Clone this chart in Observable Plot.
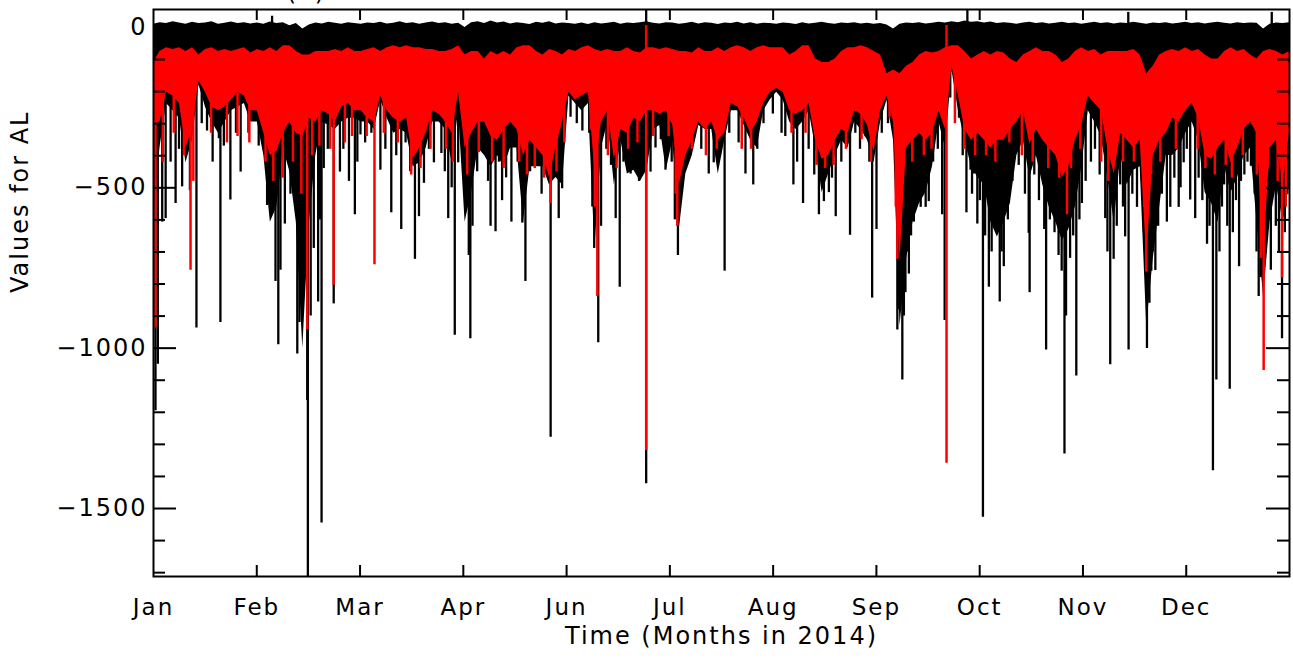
<!DOCTYPE html>
<html>
<head>
<meta charset="utf-8">
<script src="https://cdn.jsdelivr.net/npm/d3@7"></script>
<script src="https://cdn.jsdelivr.net/npm/@observablehq/plot@0.6"></script>
<style>
  html, body { margin: 0; padding: 0; background: #fff; }
  #chart svg text { letter-spacing: 2px; }
</style>
</head>
<body>
<div id="chart"></div>
<script>
// ---- axis labels (as printed in the original) ----
const monthLabels = ["Jan", "Feb", "Mar", "Apr", "Jun", "Jul", "Aug", "Sep", "Oct", "Nov", "Dec"];
const yMajorTicks = [0, -500, -1000, -1500];
const yMinorTicks = [-100, -200, -300, -400, -600, -700, -800, -900, -1100, -1200, -1300, -1400, -1600, -1700];

// ---- band envelopes, 16 samples per labelled interval (AL, nT) ----
const blackTop = [
  10, 15, 12, 18, 14, 10, 16, 12, 14, 18, 10, 13, 17, 12, 15, 11,
  14, 10, 17, 12, 15, 5, 12, -5, 8, 14, 11, 16, 13, 10, 15, 12,
  10, 14, 12, 16, 11, 13, 18, 12, 15, 10, 14, 17, 12, 15, 10, 13,
  0, 15, 18, 12, 20, 14, 17, 11, 15, 12, 9, 16, 13, 18, 11, 14,
  12, 10, 14, 9, 15, 11, 13, 16, 10, 14, 12, 15, 18, 13, 11, 15,
  14, 10, 12, 16, 11, 15, 13, 9, 14, 12, 16, 11, 15, 10, 13, 12,
  10, 14, 12, 9, 15, 11, 13, 16, 12, 10, 14, 12, 15, 11, 13, 10,
  12, 8, -5, 10, 14, 12, 15, 11, 13, 16, 14, 18, 15, 20, 16, 18,
  14, 17, 12, 15, 13, 10, 14, 16, 12, 15, 11, 13, 16, 12, 14, 10,
  13, 16, 12, 15, 11, 14, 12, 16, 13, 10, 14, 12, 15, 11, 13, 16,
  12, 15, 11, 14, 16, 13, 11, 15, 12, 14, 13, -5, 10, 14, 12, 15
];
const blackDense = [
  -600, -375, -237, -260, -283, -422, -352, -179, -248, -295, -330, -295, -260, -248, -237, -295,
  -295, -399, -607, -561, -376, -450, -607, -1000, -607, -399, -295, -306, -318, -295, -283, -283,
  -295, -295, -318, -226, -283, -330, -318, -330, -434, -422, -376, -295, -295, -318, -422, -260,
  -607, -515, -376, -399, -434, -399, -434, -376, -376, -607, -434, -434, -434, -491, -468, -491,
  -214, -237, -260, -237, -689, -376, -295, -491, -352, -457, -445, -480, -445, -318, -306, -445,
  -352, -630, -457, -399, -306, -318, -318, -457, -352, -260, -260, -306, -352, -376, -260, -226,
  -202, -226, -295, -318, -295, -260, -376, -515, -457, -399, -352, -376, -295, -318, -352, -422,
  -295, -226, -352, -931, -723, -607, -549, -515, -434, -295, -376, -133, -260, -352, -434, -468,
  -491, -607, -653, -607, -549, -399, -352, -468, -399, -491, -561, -607, -665, -630, -561, -434,
  -260, -295, -340, -468, -607, -399, -491, -445, -434, -931, -723, -561, -399, -399, -376, -330,
  -295, -352, -515, -549, -607, -434, -515, -468, -399, -376, -607, -839, -607, -491, -607, -491
];
const redTop = [
  -110, -75, -63, -69, -63, -75, -63, -86, -69, -63, -75, -69, -75, -69, -63, -80,
  -69, -75, -63, -75, -57, -57, -75, -86, -86, -75, -75, -75, -69, -75, -63, -75,
  -75, -69, -63, -75, -63, -57, -63, -57, -63, -63, -69, -69, -75, -75, -69, -57,
  -86, -75, -75, -98, -75, -86, -75, -86, -63, -57, -57, -75, -86, -69, -75, -86,
  -69, -75, -63, -57, -69, -75, -69, -75, -75, -63, -75, -80, -63, -63, -69, -63,
  -69, -75, -75, -80, -63, -75, -75, -63, -75, -63, -57, -63, -75, -63, -57, -63,
  -63, -63, -86, -75, -57, -57, -98, -109, -109, -98, -75, -63, -63, -57, -63, -75,
  -86, -144, -133, -144, -121, -109, -86, -75, -80, -75, -63, -57, -57, -75, -98, -86,
  -75, -86, -75, -80, -98, -109, -86, -75, -63, -75, -75, -86, -109, -98, -75, -63,
  -75, -69, -86, -75, -75, -75, -75, -69, -86, -144, -121, -86, -75, -69, -75, -63,
  -75, -69, -86, -98, -98, -75, -63, -75, -69, -86, -98, -75, -69, -75, -86, -75
];
const redBottom = [
  -306, -295, -202, -214, -237, -376, -318, -167, -202, -248, -260, -248, -226, -202, -214, -260,
  -260, -330, -399, -387, -330, -295, -330, -340, -283, -295, -260, -271, -295, -248, -237, -260,
  -260, -283, -295, -214, -260, -283, -295, -283, -411, -376, -330, -260, -271, -295, -330, -202,
  -376, -330, -295, -295, -340, -352, -318, -295, -318, -399, -352, -376, -399, -468, -376, -295,
  -202, -226, -214, -202, -450, -295, -260, -411, -318, -330, -283, -295, -260, -260, -271, -260,
  -306, -491, -399, -352, -295, -318, -295, -352, -330, -237, -248, -283, -330, -295, -237, -202,
  -190, -202, -260, -271, -260, -237, -352, -411, -399, -352, -318, -330, -260, -271, -306, -387,
  -260, -214, -295, -723, -376, -352, -330, -352, -330, -260, -318, -121, -214, -318, -352, -330,
  -352, -376, -352, -352, -318, -295, -260, -364, -318, -352, -376, -399, -468, -434, -352, -306,
  -214, -237, -260, -376, -457, -330, -352, -376, -352, -723, -399, -352, -330, -283, -295, -260,
  -237, -283, -399, -411, -376, -352, -422, -376, -318, -295, -330, -723, -376, -352, -491, -330
];

// ---- individual excursions [day, AL] ----
const blackSpikes = [
  [0.64, -1195], [1.4, -1050], [2.8, -607], [3.9, -596], [5.5, -420], [7.1, -549], [8.2, -380], [9.2, -497],
  [11.7, -509], [13.8, -937], [15.5, -300], [17.2, -323], [19, -420], [21, -347], [21.5, -920], [22.6, -370],
  [24.7, -538], [26.5, -330], [28, -451], [30.5, -330], [31.5, -290], [33.8, -370],
  [35, -360], [36.5, -555], [37.8, -480], [39.2, -792], [40.1, -989], [40.8, -757], [42.2, -613], [44, -520],
  [46.2, -1018], [46.9, -920], [48, -700], [49.4, -1163], [49.6, -1712], [50.5, -900], [51.5, -689], [52.9, -856],
  [53.5, -600], [54, -1545], [54.7, -440], [56, -380], [57.9, -862], [59.9, -451], [61, -380], [62.8, -480],
  [64.7, -584], [65.5, -420], [66.5, -335],
  [68, -360], [70, -330], [72.9, -445], [74.5, -380], [76.4, -578], [78, -400], [79.6, -630], [81, -360],
  [82.5, -450], [84, -723], [85.3, -590], [86.9, -486], [88.5, -380], [90.1, -422], [92.5, -393], [93.6, -450],
  [94.7, -596], [95.8, -500], [96.8, -960], [97.9, -422],
  [100.5, -560], [101.3, -711], [101.8, -971], [102.5, -620], [104, -450], [106.7, -399], [107.5, -480], [108.3, -620],
  [109.9, -637], [111, -420], [112, -540], [113.3, -469], [115, -607], [117, -420], [118.5, -610], [119.5, -792],
  [121, -450], [123.3, -433], [124.7, -520], [126, -450], [127.6, -1278], [129, -430], [130.2, -596], [131.3, -503],
  [134, -280], [136, -300], [137.8, -323], [140, -330], [141, -560], [141.6, -689], [142.9, -983], [143.8, -620],
  [145.5, -380], [147, -430], [148.5, -596], [149.8, -810], [151, -420], [152, -400], [153.3, -457], [154.9, -445],
  [156, -480], [157, -390], [158.3, -1423], [159.7, -451], [161.3, -376], [163, -350], [164.5, -445],
  [166.5, -420], [167.5, -600], [168.5, -711], [169.3, -520], [170.4, -457], [172, -360], [174.2, -323], [176, -380],
  [178.4, -457], [180, -422], [182, -400], [183.5, -760], [185, -330], [188, -360], [190.2, -457], [192.7, -491],
  [194, -380], [196, -300],
  [199, -270], [201.8, -330], [203, -340], [205.6, -491], [206.8, -420], [208.7, -549], [210.5, -380], [212.3, -460],
  [213.8, -584], [214.6, -480], [215.4, -543], [217, -515], [218, -470], [219.2, -590], [221, -420], [223.8, -648],
  [225.5, -330], [227, -380], [228.8, -341], [230, -420], [230.9, -844], [232.3, -630],
  [234, -330], [236, -300], [239, -943], [239.6, -880], [240.2, -760], [240.6, -1099], [241.1, -900], [241.6, -827],
  [242.1, -700], [242.7, -769], [243.4, -650], [244.3, -607], [244.8, -560], [245.4, -543], [246.5, -561], [247.2, -520],
  [248.1, -561], [249.1, -543], [250.5, -420], [252, -380], [253.4, -584], [254.2, -914], [256, -220], [258.8, -283],
  [260, -400], [261.2, -578], [262.5, -445], [263, -520], [263.6, -457], [264.7, -613], [265.5, -540],
  [266.5, -1527], [267.2, -650], [268.4, -810], [269.3, -700], [270.5, -620], [271.9, -856], [272.5, -700], [273.2, -746],
  [274.5, -600], [276, -480], [278, -430], [280, -520], [281.2, -642], [281.5, -827], [283, -460], [284.5, -540],
  [286.2, -630], [286.8, -1006], [288, -600], [289.5, -640], [290.8, -711], [291.8, -760], [292.7, -1330], [293.2, -900],
  [294.5, -720], [295.5, -650], [296.5, -1087], [297.5, -600], [298.3, -549], [299.5, -480],
  [301.2, -420], [302.5, -380], [304, -460], [305.8, -596], [306.5, -700], [307.4, -1052], [308.5, -723], [309.5, -620],
  [310.6, -491], [311.5, -560], [312.2, -653], [313.3, -1006], [314.5, -520], [316, -561], [317.5, -480], [318.2, -640],
  [319.2, -1001], [320, -860], [320.6, -760], [321.1, -700], [321.9, -758], [322.8, -620], [324, -520], [325.6, -607],
  [326.7, -561], [328, -470], [329.4, -561], [330, -500], [331, -422], [332, -380],
  [333.1, -538], [334.7, -596], [335.8, -470], [337, -540], [338.5, -676], [339.3, -620], [340.4, -1382], [341.5, -1099],
  [342.5, -700], [343.3, -560], [344, -491], [345, -620], [345.8, -1128], [346.8, -640], [347.8, -540], [348.8, -746],
  [349.4, -480], [350.5, -460], [351.5, -420], [352.6, -433], [353.8, -520], [354.4, -700], [355.1, -839], [355.7, -780],
  [356.3, -640], [357.8, -540], [359, -757], [360.6, -620], [361.6, -700], [362.6, -971], [363.5, -640], [364.3, -520]
];
const blackUpSpikes = [[38.1, 35], [158.3, 56], [261.5, 56], [313.2, 47], [359.3, 47]];
const redSpikes = [
  [0.64, -937], [3, -420], [6.5, -330], [9.8, -400], [11.9, -757], [12.8, -480], [18.5, -330], [23.6, -360],
  [27, -340], [30.8, -360], [36, -420], [38.5, -480], [41.5, -470], [44.8, -420], [47.5, -520], [49.4, -943],
  [51, -400], [53.3, -370], [56.8, -380], [57.9, -804], [61.5, -360], [63.8, -340], [68.5, -340], [71, -740],
  [74, -330], [78.5, -360], [82.8, -460], [85.8, -440], [89, -380], [94, -380], [96.2, -420], [100.8, -460],
  [104.5, -390], [108.8, -420], [112.5, -440], [117.5, -420], [120, -460], [122.5, -440], [125.5, -470], [127.6, -549],
  [129.5, -450], [132, -360], [140.5, -320], [141.8, -560], [142.6, -839], [146, -400], [148.8, -440], [152.5, -380],
  [155.5, -360], [158.3, -1319], [160.5, -340], [165.5, -340], [167.8, -520], [168.3, -620], [170, -420], [173, -380],
  [177.5, -400], [181, -380], [189, -380], [192, -380], [205, -330], [209.5, -330], [213, -430], [215.8, -440],
  [218.5, -430], [222.5, -380], [227.5, -350], [230.5, -420], [236.5, -280], [238.5, -560], [239, -723], [240, -620],
  [243.8, -420], [247.5, -400], [250, -380], [254.8, -1359], [257.5, -300], [260.5, -380], [264, -400], [267.5, -400],
  [270.5, -420], [275, -360], [279, -400], [282.5, -420], [287.5, -440], [291, -470], [293.5, -584], [294.8, -440],
  [297.8, -380], [304.5, -420], [306.8, -480], [311.5, -420], [315, -420], [318.3, -560], [319, -763], [320.5, -460],
  [323.5, -420], [328.5, -380], [335.5, -380], [338, -440], [341, -460], [344.5, -430], [346.5, -470], [350, -400],
  [354.5, -460], [355.8, -720], [356.7, -1070], [358, -440], [361.2, -480], [362.6, -781], [363.8, -560]
];
const redUpSpikes = [[158.3, 6], [254.8, 6]];

// ---- build tables ----
const DAYS = 365;
const bands = redTop.map((v, i) => ({
  x: i * DAYS / (redTop.length - 1),
  bTop: blackTop[i], bBot: blackDense[i], rTop: v, rBot: redBottom[i]
}));
const monthTicks = monthLabels.map((label, i) => ({x: i * DAYS / monthLabels.length, label}));
const innerTicks = monthTicks.slice(1);

const W = 1293, H = 659;
const mL = 153, mR = 4, mT = 9, mB = 83;
const PW = W - mL - mR, PH = H - mT - mB;
const fmt = d => d < 0 ? "\u2212" + Math.abs(d) : String(d);

const chart = Plot.plot({
  width: W, height: H,
  marginLeft: mL, marginRight: mR, marginTop: mT, marginBottom: mB,
  style: {fontFamily: "DejaVu Sans", background: "white", color: "black", overflow: "visible"},
  x: {domain: [0, DAYS], axis: null},
  y: {domain: [-1712, 56], axis: null},
  marks: [
    Plot.areaY(bands, {x: "x", y1: "bBot", y2: "bTop", fill: "black", clip: true}),
    Plot.ruleX(blackSpikes, {x: d => d[0], y1: -100, y2: d => d[1], stroke: "black", strokeWidth: 2.3, clip: true}),
    Plot.ruleX(blackUpSpikes, {x: d => d[0], y1: 0, y2: d => d[1], stroke: "black", strokeWidth: 2.3, clip: true}),
    Plot.areaY(bands, {x: "x", y1: "rBot", y2: "rTop", fill: "#ff0000", clip: true}),
    Plot.ruleX(redSpikes, {x: d => d[0], y1: -150, y2: d => d[1], stroke: "#ff0000", strokeWidth: 2.5, clip: true}),
    Plot.ruleX(redUpSpikes, {x: d => d[0], y1: -100, y2: d => d[1], stroke: "#ff0000", strokeWidth: 2.5, clip: true}),
    // inward ticks
    Plot.tickY(yMajorTicks, {y: d => d, insetRight: PW - 23, stroke: "black", strokeWidth: 2}),
    Plot.tickY(yMinorTicks, {y: d => d, insetRight: PW - 12, stroke: "black", strokeWidth: 2}),
    Plot.tickY(yMajorTicks, {y: d => d, insetLeft: PW - 23, stroke: "black", strokeWidth: 2}),
    Plot.tickY(yMinorTicks, {y: d => d, insetLeft: PW - 12, stroke: "black", strokeWidth: 2}),
    Plot.tickX(innerTicks, {x: "x", insetTop: PH - 11, stroke: "black", strokeWidth: 2}),
    Plot.tickX(innerTicks, {x: "x", insetBottom: PH - 11, stroke: "black", strokeWidth: 2}),
    Plot.frame({stroke: "black", strokeWidth: 2}),
    // labels
    Plot.text(yMajorTicks, {y: d => d, text: fmt, frameAnchor: "left", textAnchor: "end", dx: -6, fontSize: 24, fill: "black"}),
    Plot.text(monthTicks, {x: "x", text: "label", frameAnchor: "bottom", dy: 31.5, lineAnchor: "middle", fontSize: 23, fill: "black"}),
    Plot.text(["Time (Months in 2014)"], {frameAnchor: "bottom", dy: 59.5, lineAnchor: "middle", fontSize: 24, fill: "black"}),
    Plot.text(["Values for AL"], {frameAnchor: "left", dx: -133, rotate: -90, lineAnchor: "middle", fontSize: 24, fill: "black"}),
    Plot.text(["(a)"], {frameAnchor: "top-left", dx: 153, dy: -10, textAnchor: "middle", lineAnchor: "bottom", fontSize: 24, fill: "black"})
  ]
});
document.getElementById("chart").appendChild(chart);
</script>
</body>
</html>
